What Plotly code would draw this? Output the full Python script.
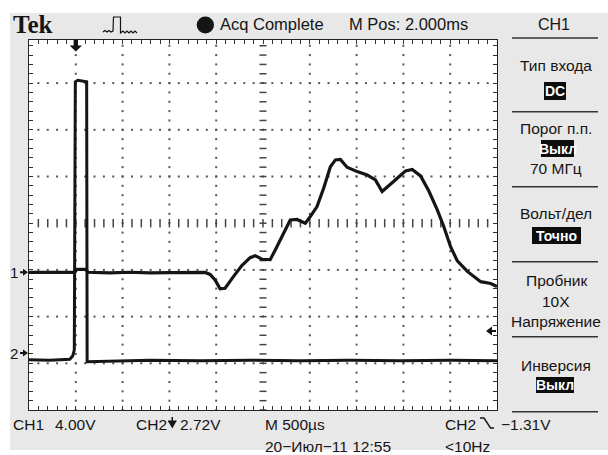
import numpy as np
import plotly.graph_objects as go

# ---------------------------------------------------------------- page geometry
W, H = 608, 455
M_L, M_R, M_T, M_B = 29, 111, 40, 45
PLOT_W = W - M_L - M_R
PLOT_H = H - M_T - M_B
DIV_PX = 46.7                      # vertical pixels per division
Y_DIV_TOP = PLOT_H / DIV_PX - 4    # top edge of the visible graticule, in divisions

# ---------------------------------------------------------------- scope settings
MS_PER_DIV = 0.5                   # M 500us
N_XDIV = 10
CH1_V_PER_DIV = 4.00
CH1_GROUND_DIV = -1.05
CH2_V_PER_DIV = 2.72
CH2_GROUND_DIV = -2.78
TRIGGER_TIME_MS = 0.5
TRIGGER_LEVEL_DIV = -2.31

# ---------------------------------------------------------------- waveforms
ch1_time_ms = [0.000, 0.222, 0.489, 0.511, 0.607, 0.628, 0.864, 1.078, 1.292, 1.506,
               1.721, 1.828, 1.881, 1.935, 1.988, 2.042, 2.095, 2.184, 2.274, 2.363,
               2.417, 2.488, 2.577, 2.631, 2.720, 2.791, 2.863, 2.952, 3.005, 3.077,
               3.148, 3.220, 3.273, 3.327, 3.398, 3.506, 3.613, 3.701, 3.773, 3.827,
               3.934, 4.023, 4.094, 4.183, 4.272, 4.362, 4.433, 4.504, 4.576, 4.683,
               4.826, 4.933, 5.000]
ch1_volts = [-0.02, -0.04, -0.02, 0.24, 0.24, 0.00, -0.06, 0.00, -0.06, -0.03,
             0.00, 0.03, -0.02, -0.19, -0.66, -1.41, -1.37, -0.38, 0.58, 1.25,
             1.42, 1.11, 1.08, 1.91, 3.34, 4.48, 4.52, 4.20, 4.76, 5.62,
             7.19, 9.04, 9.62, 9.66, 8.99, 8.62, 8.33, 7.91, 6.92, 7.33,
             8.05, 8.68, 8.80, 8.25, 6.96, 5.34, 3.88, 2.19, 0.97, 0.07,
             -0.81, -0.96, -1.22]

ch2_time_ms = [0.000, 0.222, 0.436, 0.468, 0.484, 0.495, 0.521, 0.586, 0.616, 0.621,
               0.864, 1.292, 1.828, 2.363, 2.898, 3.434, 3.969, 4.504, 5.000]
ch2_volts = [-0.39, -0.42, -0.36, -0.16, 0.19, 15.80, 15.89, 15.83, 15.80, -0.51,
             -0.48, -0.42, -0.45, -0.42, -0.45, -0.42, -0.45, -0.42, -0.45]

# ---------------------------------------------------------------- labels
header_status = "Acq Complete"
header_mpos = "M Pos: 2.000ms"
menu_title = "CH1"
menu_items = [  # (text, centre y px, inverted box)
    ("Тип входа", 65, None),
    ("DC", 91, (544, 566, 82, 100)),
    ("Порог п.п.", 128, None),
    ("Выкл", 148.5, (541, 574, 140, 157)),
    ("70 МГц", 168, None),
    ("Вольт/дел", 213, None),
    ("Точно", 235.5, (532, 581, 227, 244)),
    ("Пробник", 280, None),
    ("10X", 301.5, None),
    ("Напряжение", 321.5, None),
    ("Инверсия", 365, None),
    ("Выкл", 385, (536, 574, 377, 393)),
]
menu_separators = [38, 111.7, 186.7, 261.7, 336.7, 411.7]
status_left = [  # (text, left x px, centre y px)
    ("CH1", 11, 424), ("4.00V", 53, 424),
    ("CH2", 134, 424), ("2.72V", 178, 424),
    ("M 500\u00b5s", 263, 424), ("20\u2212Июл\u221211 12:55", 263, 446.5),
    ("CH2", 443, 424), ("\u22121.31V", 499, 424), ("<10Hz", 443, 446.5),
]
ground_markers = [("1", CH1_GROUND_DIV), ("2", CH2_GROUND_DIV)]

FONT = "Liberation Sans, Arial, Helvetica, sans-serif"
INK = "#151515"
BG = "#e8e8e8"


def xp(x):
    return (x - M_L) / PLOT_W


def yp(y):
    return (H - M_B - y) / PLOT_H


def div_to_paper(d):
    return (d + 4) / (Y_DIV_TOP + 4)


def path_px(points, close=False):
    s = "M " + " L ".join(f"{xp(x):.5f},{yp(y):.5f}" for x, y in points)
    return s + (" Z" if close else "")


fig = go.Figure()

# ---------------------------------------------------------------- graticule
x_end = N_XDIV * MS_PER_DIV
sub_x = np.round(np.arange(1, N_XDIV * 5) * MS_PER_DIV / 5, 6)
sub_y = np.round(np.arange(-4, Y_DIV_TOP, 0.2), 6)
major_x = [k * MS_PER_DIV for k in range(1, N_XDIV) if k != N_XDIV // 2]
major_y = [k for k in range(-3, 4) if k != 0]

dot_x, dot_y = [], []
for gx in major_x:
    dot_x += [gx] * len(sub_y)
    dot_y += list(sub_y)
for gy in major_y:
    dot_x += list(sub_x)
    dot_y += [gy] * len(sub_x)
fig.add_trace(go.Scatter(x=dot_x, y=dot_y, mode="markers", hoverinfo="skip",
                         marker=dict(symbol="square", size=2, color="#555", line_width=0)))
fig.add_trace(go.Scatter(x=[x_end / 2] * len(sub_y), y=sub_y, mode="markers", hoverinfo="skip",
                         marker=dict(symbol="line-ew", size=5, line=dict(width=1.5, color="#444"))))
fig.add_trace(go.Scatter(x=sub_x, y=[0] * len(sub_x), mode="markers", hoverinfo="skip",
                         marker=dict(symbol="line-ns", size=6, line=dict(width=1.5, color="#444"))))

# ---------------------------------------------------------------- channels
fig.add_trace(go.Scatter(x=ch2_time_ms, y=ch2_volts, yaxis="y3", mode="lines",
                         line=dict(color=INK, width=3), hoverinfo="skip", name="CH2"))
fig.add_trace(go.Scatter(x=ch1_time_ms, y=ch1_volts, yaxis="y2", mode="lines",
                         line=dict(color=INK, width=3.2), hoverinfo="skip", name="CH1"))

# ---------------------------------------------------------------- decorations
shapes = []
# white page border around the grey screen
for x0, y0, x1, y1 in [(0, 0, W, 13), (0, 0, 10, H), (0, 450, W, H)]:
    shapes.append(dict(type="rect", xref="paper", yref="paper", layer="below",
                       x0=xp(x0), x1=xp(x1), y0=yp(y1), y1=yp(y0),
                       fillcolor="white", line_width=0))
# menu separators
for sy in menu_separators:
    shapes.append(dict(type="line", xref="paper", yref="paper",
                       x0=xp(512), x1=xp(598), y0=yp(sy), y1=yp(sy),
                       line=dict(color="#333", width=1.5)))
# inverted menu boxes
for _, _, box in menu_items:
    if box:
        bx0, bx1, by0, by1 = box
        shapes.append(dict(type="rect", xref="paper", yref="paper",
                           x0=xp(bx0), x1=xp(bx1), y0=yp(by1), y1=yp(by0),
                           fillcolor="#0d0d0d", line_width=0))
# acquisition dot
shapes.append(dict(type="circle", xref="paper", yref="paper",
                   x0=xp(196.7), x1=xp(214), y0=yp(33.5), y1=yp(16.5),
                   fillcolor=INK, line_width=0))
# trigger-type pulse icon
shapes.append(dict(type="path", xref="paper", yref="paper", line=dict(color=INK, width=1.2),
                   path=path_px([(103, 32), (105, 30.5), (107, 32), (109, 30.5), (111, 32),
                                 (113, 31), (113.5, 17), (120.5, 17), (120.5, 33), (123, 31),
                                 (125, 33), (127, 31), (129, 33), (131, 31), (133, 33),
                                 (135, 31), (137, 33)])))
# trigger position arrow at the top of the graticule
shapes.append(dict(type="path", xref="x", yref="paper", xsizemode="pixel", ysizemode="pixel",
                   xanchor=TRIGGER_TIME_MS, yanchor=1, fillcolor=INK, line_width=0,
                   path="M -2.2,0 L 2.2,0 L 2.2,-5.5 L 6.2,-5.5 L 0,-11.5 L -6.2,-5.5 L -2.2,-5.5 Z"))
# trigger level arrow on the right edge
shapes.append(dict(type="path", xref="x", yref="y", xsizemode="pixel", ysizemode="pixel",
                   xanchor=x_end, yanchor=TRIGGER_LEVEL_DIV, fillcolor=INK, line_width=0,
                   path="M -11,0 L -5,4.5 L -5,1 L -1,1 L -1,-1 L -5,-1 L -5,-4.5 Z"))
# channel ground arrows on the left edge (outside the plot area)
for _, gdiv in ground_markers:
    shapes.append(dict(type="path", xref="paper", yref="paper", xsizemode="pixel", ysizemode="pixel",
                       xanchor=0, yanchor=div_to_paper(gdiv), fillcolor=INK, line_width=0,
                       path="M -1,0 L -6,3.5 L -6,1 L -9,1 L -9,-1 L -6,-1 L -6,-3.5 Z"))
# bandwidth-limit glyph after CH2
shapes.append(dict(type="path", xref="paper", yref="paper", fillcolor=INK, line_width=0,
                   path=path_px([(171.5, 417), (173, 417), (173, 420.5), (176.5, 420.5),
                                 (176.5, 422), (176, 422), (172.3, 428.5), (168.5, 422),
                                 (168, 422), (168, 420.5), (171.5, 420.5)], close=True)))
# falling-slope glyph
shapes.append(dict(type="path", xref="paper", yref="paper", line=dict(color=INK, width=1.4),
                   path=path_px([(480, 418), (484, 418), (490.5, 428), (494, 428)])))

annotations = []


def label(text, x, y, size=15, color=INK, anchor="left", family=FONT, bold=False):
    t = f"<b>{text}</b>" if bold else text
    annotations.append(dict(text=t, x=xp(x), y=yp(y), xref="paper", yref="paper",
                            xanchor=anchor, yanchor="middle", showarrow=False,
                            font=dict(family=family, size=size, color=color)))


label("Tek", 11, 25, size=25, family="Liberation Serif, Times New Roman, serif", bold=True)
label(header_status, 218, 24, size=16.5)
label(header_mpos, 347, 24, size=16.5)
label(menu_title, 554, 24, size=16, anchor="center")
for text, cy, box in menu_items:
    if box:
        label(text, (box[0] + box[1]) / 2, cy, size=14, color="white", anchor="center", bold=True)
    else:
        label(text, 556, cy, size=15.5, anchor="center")
for text, lx, cy in status_left:
    label(text, lx, cy, size=15.5)

# channel ground numbers
for name, gdiv in ground_markers:
    annotations.append(dict(text=name, x=0, y=div_to_paper(gdiv), xref="paper", yref="paper",
                            showarrow=False, xanchor="center", yanchor="middle", xshift=-15,
                            font=dict(family=FONT, size=15, color=INK)))

tick_style = dict(showgrid=False, zeroline=False, showticklabels=False, ticks="inside",
                  ticklen=4, tickwidth=1, tickcolor="#333", showline=True,
                  linecolor="#222", linewidth=1, mirror="ticks", fixedrange=True)

fig.update_layout(
    width=W, height=H,
    margin=dict(l=M_L, r=M_R, t=M_T, b=M_B, pad=0),
    paper_bgcolor=BG, plot_bgcolor="white",
    showlegend=False,
    xaxis=dict(range=[0, x_end], tick0=0, dtick=MS_PER_DIV / 5, **tick_style),
    yaxis=dict(range=[-4, Y_DIV_TOP], tick0=0, dtick=0.2, **tick_style),
    yaxis2=dict(overlaying="y", visible=False, fixedrange=True,
                range=[(-4 - CH1_GROUND_DIV) * CH1_V_PER_DIV,
                       (Y_DIV_TOP - CH1_GROUND_DIV) * CH1_V_PER_DIV]),
    yaxis3=dict(overlaying="y", visible=False, fixedrange=True,
                range=[(-4 - CH2_GROUND_DIV) * CH2_V_PER_DIV,
                       (Y_DIV_TOP - CH2_GROUND_DIV) * CH2_V_PER_DIV]),
    shapes=shapes,
    annotations=annotations,
)

fig.write_html("out.html")
